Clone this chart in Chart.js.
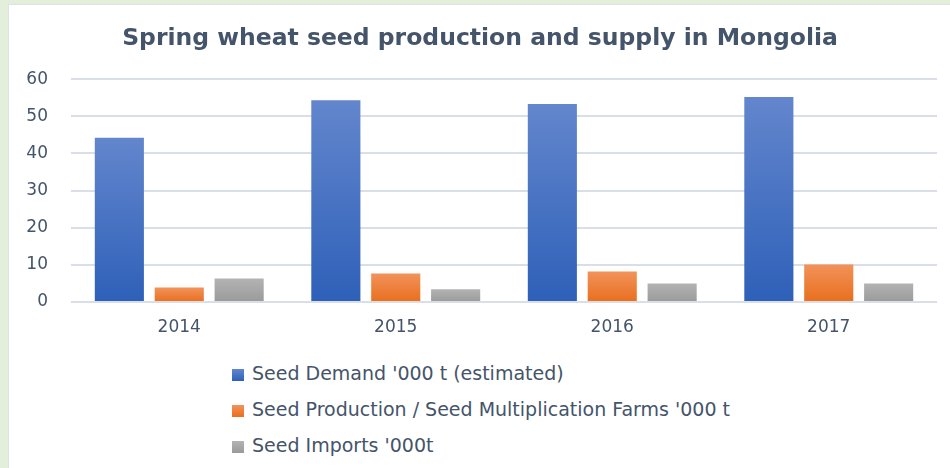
<!DOCTYPE html>
<html>
<head>
<meta charset="utf-8">
<script src="https://cdn.jsdelivr.net/npm/chart.js@4.4.1/dist/chart.umd.min.js"></script>
<style>
  html, body { margin: 0; padding: 0; }
  body { width: 950px; height: 468px; background: #e3eedb; position: relative; overflow: hidden; }
  #panel { position: absolute; left: 8px; top: 4px; right: 0; bottom: 0; background: #fff;
    border-left: 1px solid #dde2ea; border-top: 1px solid #dde2ea; }
  #wrap { position: absolute; left: 0; top: 0; width: 941px; height: 340px; }
  #legend { position: absolute; left: 223px; top: 350px; font-family: "DejaVu Sans", sans-serif;
    font-size: 19px; color: #44546a; }
  #legend div { height: 36px; line-height: 36px; white-space: nowrap; }
  #legend span { display: inline-block; width: 12px; height: 12px; margin-right: 8px; vertical-align: -1px; }
</style>
</head>
<body>
<div id="panel">
  <div id="wrap"><canvas id="grafico"></canvas></div>
  <div id="legend"></div>
</div>
<script>
const categorias = ["2014", "2015", "2016", "2017"];
const demanda = [44.2, 54.3, 53.3, 55.2];
const produccion = [3.9, 7.7, 8.2, 10.1];
const importaciones = [6.3, 3.4, 5.0, 5.0];
const etiquetas = [
  "Seed Demand '000 t (estimated)",
  "Seed Production / Seed Multiplication Farms '000 t",
  "Seed Imports '000t"
];
const ticksY = [0, 10, 20, 30, 40, 50, 60];

const colores = [
  ["#6386cd", "#2e60b8"],
  ["#f2925a", "#e86f1d"],
  ["#b3b3b3", "#9a9a9a"]
];
const textoColor = "#44546a";

// degradado vertical por barra, como en Excel
function degradado(arriba, abajo) {
  return (ctx) => {
    const chart = ctx.chart;
    if (!chart.chartArea || ctx.type !== "data" || !chart.scales.y) return abajo;
    const y = chart.scales.y;
    const y0 = y.getPixelForValue(ctx.parsed.y);
    const y1 = y.getPixelForValue(0);
    if (!isFinite(y0) || y0 === y1) return abajo;
    const g = chart.ctx.createLinearGradient(0, y0, 0, y1);
    g.addColorStop(0, arriba);
    g.addColorStop(1, abajo);
    return g;
  };
}

const series = [demanda, produccion, importaciones];

const grafico = new Chart(document.getElementById("grafico"), {
  type: "bar",
  data: {
    labels: categorias,
    datasets: series.map((datos, i) => ({
      label: etiquetas[i],
      data: datos,
      backgroundColor: degradado(colores[i][0], colores[i][1]),
      borderWidth: 0,
      categoryPercentage: 0.83,
      barPercentage: 0.82
    }))
  },
  options: {
    responsive: true,
    maintainAspectRatio: false,
    animation: false,
    layout: { padding: { left: 14, right: 13, top: 0, bottom: 0 } },
    plugins: {
      legend: { display: false },
      tooltip: { enabled: false },
      title: {
        display: true,
        text: "Spring wheat seed production and supply in Mongolia",
        color: textoColor,
        font: { family: "DejaVu Sans", size: 23.5, weight: "bold" },
        padding: { top: 20, bottom: 26 }
      }
    },
    scales: {
      x: {
        grid: { display: false, drawTicks: false },
        border: { display: false },
        ticks: { color: textoColor, font: { family: "DejaVu Sans", size: 17 }, padding: 15 },
        afterFit: (s) => { s.height = 43; }
      },
      y: {
        min: 0,
        max: 60,
        afterBuildTicks: (s) => { s.ticks = ticksY.map(v => ({ value: v })); },
        grid: { color: "#dadee6", lineWidth: 2, drawTicks: false },
        border: { display: false },
        ticks: { color: textoColor, font: { family: "DejaVu Sans", size: 17 }, padding: 23 },
        afterFit: (s) => { s.width = 48; }
      }
    }
  }
});

const leyenda = document.getElementById("legend");
grafico.data.datasets.forEach((ds, i) => {
  const fila = document.createElement("div");
  fila.innerHTML = `<span style="background:linear-gradient(${colores[i][0]}, ${colores[i][1]})"></span>${ds.label}`;
  leyenda.appendChild(fila);
});
</script>
</body>
</html>
